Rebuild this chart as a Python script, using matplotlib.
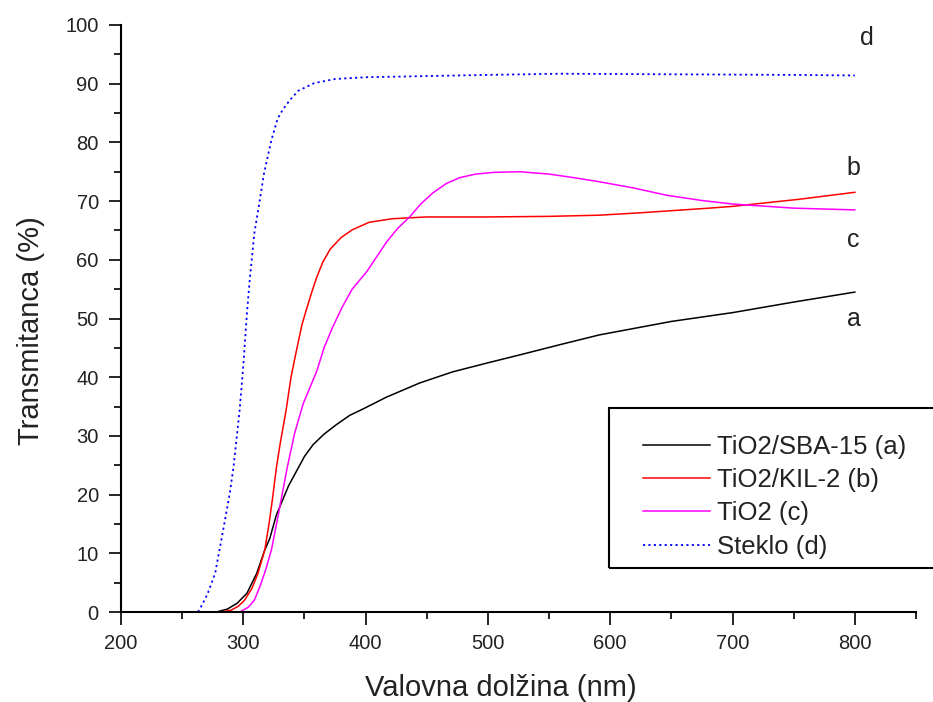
import numpy as np
import matplotlib
matplotlib.use("Agg")
import matplotlib.pyplot as plt
from matplotlib.patches import Rectangle

plt.rcParams['font.family'] = ['Liberation Sans', 'DejaVu Sans']

# TiO2/SBA-15 (a)
wl_a = [278, 287, 295, 303, 311, 317.6, 321.6, 327, 332, 337, 343.5, 350, 357, 366, 376,
        387, 398, 417, 444, 471, 499, 526, 560, 591, 650, 700, 750, 800]
tr_a = [0, 0.5, 1.5, 3.2, 6.6, 10.6, 12.5, 16.5, 19, 21.5, 24, 26.5, 28.5, 30.3, 31.9,
        33.5, 34.6, 36.6, 39, 40.9, 42.4, 43.8, 45.6, 47.2, 49.5, 51, 52.8, 54.5]

# TiO2/KIL-2 (b)
wl_b = [281, 290, 296, 301, 307, 312, 317.6, 321, 324, 327, 330, 335, 339, 343.5, 348, 352,
        356, 360, 365, 371, 380, 389, 403, 422, 450, 500, 550, 591, 624, 681, 700, 754, 800]
tr_b = [0, 0.3, 1, 2, 4, 6.6, 10.6, 15, 19.5, 24.5, 28.5, 34.4, 40, 44.6, 49, 51.8,
        54.5, 57, 59.6, 61.8, 63.8, 65.1, 66.4, 67, 67.3, 67.3, 67.4, 67.6, 68, 68.8, 69.1, 70.3, 71.5]

# TiO2 (c)
wl_c = [297, 304, 309, 313.5, 318, 323, 329, 336, 342, 349, 355, 360, 366, 373, 381, 389,
        401, 417, 426, 436, 445, 455, 466, 477, 490, 505, 526, 550, 570, 591, 620, 646,
        675, 700, 750, 800]
tr_c = [0, 0.8, 2, 4.3, 7, 10.6, 17, 24.7, 30.5, 35.5, 38.5, 41, 45, 48.5, 52, 55,
        58, 63, 65.3, 67.3, 69.5, 71.4, 73, 74, 74.6, 74.9, 75, 74.6, 74, 73.3, 72.2, 71,
        70.1, 69.5, 68.8, 68.5]

# Steklo (d)
wl_d = [263, 267, 271, 277, 284, 289, 292, 297, 300, 303, 305, 309, 313.5, 317, 323, 328,
        332, 338, 345, 358, 375, 400, 450, 500, 560, 650, 750, 800]
tr_d = [0, 1.5, 3.2, 6.6, 14.5, 20.3, 24.7, 34.4, 42, 51, 56, 64.5, 70.2, 74.8, 80.4, 84,
        85.5, 87.2, 88.8, 90.1, 90.8, 91.1, 91.3, 91.5, 91.7, 91.6, 91.5, 91.4]

labels = ['TiO2/SBA-15 (a)', 'TiO2/KIL-2 (b)', 'TiO2 (c)', 'Steklo (d)']
end_letters = ['a', 'b', 'c', 'd']
end_pos = [(799, 50), (799, 75.6), (799, 63.4), (810, 97.8)]

fig = plt.figure(figsize=(9.33, 7.02), dpi=100)
ax = fig.add_axes([121 / 933, 90 / 702, 795 / 933, 587 / 702])

ax.plot(wl_a, tr_a, color='black', lw=1.1, label=labels[0])
ax.plot(wl_b, tr_b, color='red', lw=1.1, label=labels[1])
ax.plot(wl_c, tr_c, color='magenta', lw=1.1, label=labels[2])
ax.plot(wl_d, tr_d, color='blue', lw=1.3, ls=(0, (1.2, 1.8)), label=labels[3])

for letter, (x, y) in zip(end_letters, end_pos):
    ax.text(x, y, letter, fontsize=18, ha='center', va='center', color='#222222')

ax.set_xlim(200, 850)
ax.set_ylim(0, 100)
ax.set_xticks(np.arange(200, 801, 100))
ax.set_xticks(np.arange(250, 851, 100), minor=True)
ax.set_yticks(np.arange(0, 101, 10))
ax.set_yticks(np.arange(5, 100, 10), minor=True)

for s in ['top', 'right']:
    ax.spines[s].set_visible(False)
for s in ['left', 'bottom']:
    ax.spines[s].set_linewidth(1.5)

ax.tick_params(which='major', direction='out', length=9, width=1.2, labelsize=14.5,
               labelcolor='#222222', pad=7)
ax.tick_params(which='minor', direction='out', length=5, width=1.2)

ax.set_xlabel('Valovna dolžina (nm)', fontsize=21, color='#222222')
ax.set_ylabel('Transmitanca (%)', fontsize=21, color='#222222')
ax.xaxis.set_label_coords(0.478, -0.106)
ax.yaxis.set_label_coords(-0.096, 0.479)

# legend frame runs past the right edge of the picture
fig.patches.append(Rectangle((609 / 933, 1 - 568 / 702), 340 / 933, 160 / 702,
                             transform=fig.transFigure, fill=False, lw=1.5,
                             edgecolor='black', clip_on=False))
leg = ax.legend(loc='upper left', bbox_to_anchor=(630 / 933, 1 - 422 / 702),
                bbox_transform=fig.transFigure, frameon=False, fontsize=18.5,
                handlelength=2.6, handletextpad=0.3, labelspacing=0.36, borderpad=0)
for t in leg.get_texts():
    t.set_color('#222222')

fig.savefig('out.png', dpi=100)
